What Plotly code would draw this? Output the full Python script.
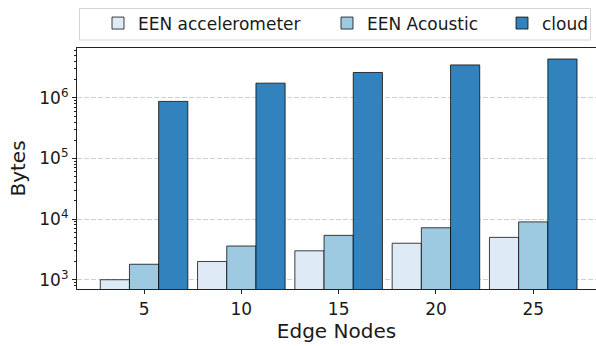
import plotly.graph_objects as go

edge_nodes = ["5", "10", "15", "20", "25"]
een_accelerometer = [1000, 2000, 3000, 4000, 5000]
een_acoustic = [1800, 3600, 5400, 7200, 9000]
cloud = [875000, 1750000, 2625000, 3500000, 4375000]
series_names = ["EEN accelerometer", "EEN Acoustic", "cloud"]
series_colors = ["#deebf7", "#9ecae1", "#3182bd"]
major_ticks = [1e3, 1e4, 1e5, 1e6]
major_labels = ["10<sup>3</sup>", "10<sup>4</sup>", "10<sup>5</sup>", "10<sup>6</sup>"]

x_idx = list(range(len(edge_nodes)))
font = "DejaVu Sans, Verdana, sans-serif"

# layout geometry (pixels)
W, H = 596, 346
ML, MR, MT, MB = 77, 0, 48, 57
PW, PH = W - ML - MR, H - MT - MB


def px_x(p):
    return (p - ML) / PW


def px_y(p):
    return 1 - (p - MT) / PH


legend_ids = ["legend", "legend2", "legend3"]
legend_text_px = [138, 367, 542]

fig = go.Figure()
for name, vals, col, lid in zip(series_names, [een_accelerometer, een_acoustic, cloud],
                                series_colors, legend_ids):
    fig.add_trace(go.Bar(
        x=x_idx, y=vals, name=name, legend=lid,
        marker=dict(color=col, line=dict(color="rgba(0,0,0,0.75)", width=1)),
    ))

minor_vals = [m * 10**e for e in range(2, 7) for m in range(2, 10)]

legend_common = dict(
    orientation="h", yanchor="middle", y=px_y(23.5),
    bgcolor="rgba(0,0,0,0)", borderwidth=0,
    font=dict(family=font, size=17, color="#1a1a1a"),
    itemwidth=30, tracegroupgap=0,
)
legends = {}
for lid, tx in zip(legend_ids, legend_text_px):
    legends[lid] = dict(legend_common, x=px_x(tx - 40), xanchor="left")

fig.update_layout(
    width=W, height=H,
    margin=dict(l=ML, r=MR, t=MT, b=MB),
    paper_bgcolor="white", plot_bgcolor="white",
    barmode="group", bargap=0.1, bargroupgap=0,
    font=dict(family=font, size=17, color="#1a1a1a"),
    showlegend=True,
    **legends,
    shapes=[dict(
        type="rect", xref="paper", yref="paper",
        x0=px_x(79.5), x1=px_x(590.5), y0=px_y(40), y1=px_y(8.5),
        line=dict(color="#d4d4d4", width=1), fillcolor="white", layer="above",
    )],
    xaxis=dict(
        range=[-0.689, 4.645],
        tickmode="array", tickvals=x_idx, ticktext=edge_nodes,
        ticks="outside", ticklen=4, tickwidth=1, tickcolor="#222",
        showline=True, linecolor="#222", linewidth=1.2, mirror=True,
        showgrid=False, zeroline=False,
        title=dict(text="Edge Nodes", standoff=6),
        tickfont=dict(size=17),
    ),
    yaxis=dict(
        type="log", range=[2.847, 6.823],
        tickmode="array", tickvals=major_ticks, ticktext=major_labels,
        ticks="outside", ticklen=4, tickwidth=1, tickcolor="#222",
        showline=True, linecolor="#222", linewidth=1.2,
        showgrid=True, gridcolor="rgba(195,195,195,0.8)", griddash="5px,2px", gridwidth=1,
        zeroline=False, layer="above traces",
        minor=dict(tickmode="array", tickvals=minor_vals, ticks="outside", ticklen=2,
                   tickcolor="#222", showgrid=False),
        title=dict(text="Bytes", standoff=8),
        tickfont=dict(size=17),
    ),
)

fig.write_html("out.html")
